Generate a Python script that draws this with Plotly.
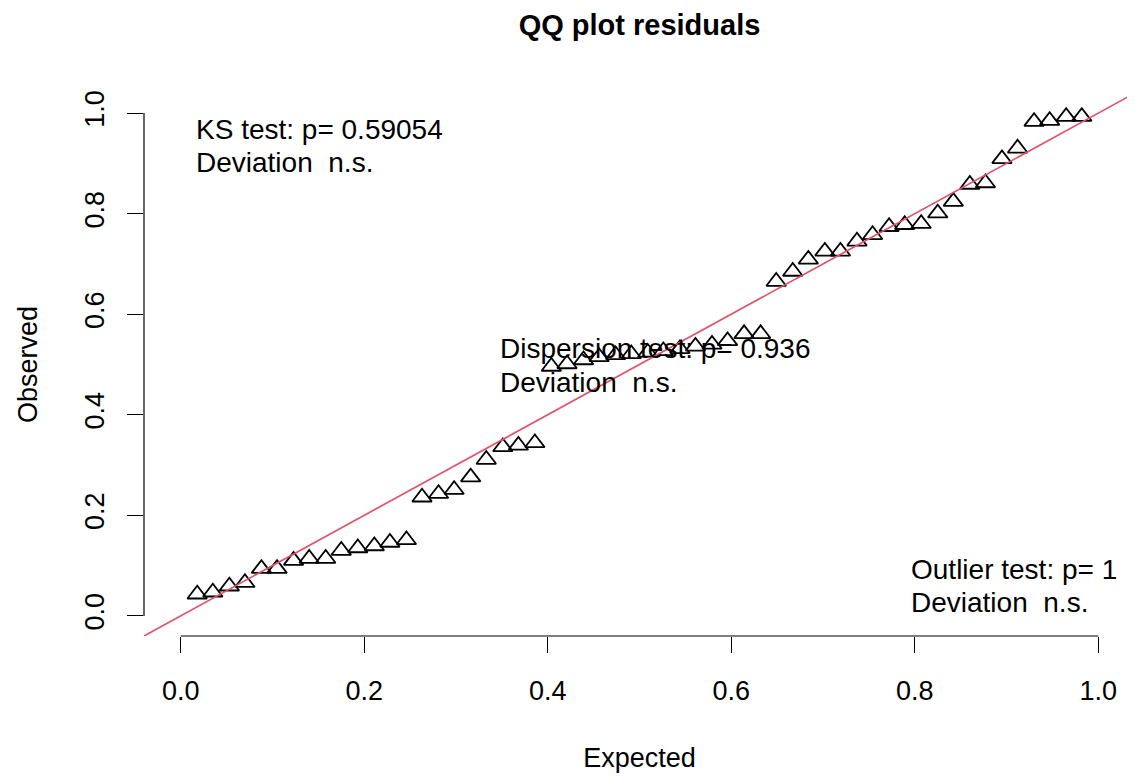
import plotly.graph_objects as go

# ---- data ----
expected = [0.018, 0.035, 0.053, 0.070, 0.088, 0.105, 0.123, 0.140, 0.158, 0.175,
            0.193, 0.211, 0.228, 0.246, 0.263, 0.281, 0.298, 0.316, 0.333, 0.351,
            0.368, 0.386, 0.404, 0.421, 0.439, 0.456, 0.474, 0.491, 0.509, 0.526,
            0.544, 0.561, 0.579, 0.596, 0.614, 0.632, 0.649, 0.667, 0.684, 0.702,
            0.719, 0.737, 0.754, 0.772, 0.789, 0.807, 0.825, 0.842, 0.860, 0.877,
            0.895, 0.912, 0.930, 0.947, 0.965, 0.982]
observed = [0.043, 0.047, 0.059, 0.066, 0.094, 0.094, 0.110, 0.114, 0.114, 0.130,
            0.135, 0.139, 0.146, 0.151, 0.236, 0.243, 0.251, 0.276, 0.311, 0.336,
            0.339, 0.344, 0.496, 0.501, 0.509, 0.515, 0.519, 0.521, 0.524, 0.527,
            0.531, 0.536, 0.540, 0.547, 0.561, 0.561, 0.665, 0.685, 0.709, 0.725,
            0.725, 0.745, 0.758, 0.774, 0.778, 0.780, 0.801, 0.824, 0.858, 0.861,
            0.909, 0.930, 0.983, 0.985, 0.993, 0.993]

tick_vals = [0.0, 0.2, 0.4, 0.6, 0.8, 1.0]
tick_text = ["0.0", "0.2", "0.4", "0.6", "0.8", "1.0"]
axis_range = [-0.04, 1.04]

title_text = "QQ plot residuals"
x_title = "Expected"
y_title = "Observed"

ks_lines = ["KS test: p= 0.59054", "Deviation\u00a0 n.s."]
disp_lines = ["Dispersion test: p= 0.936", "Deviation\u00a0 n.s."]
out_lines = ["Outlier test: p= 1", "Deviation\u00a0 n.s."]

FONT = "Liberation Sans, Arial, sans-serif"
FS = 27
FS_TXT = 28

W, H = 1127, 768  # page body has an 8px margin

fig = go.Figure()
fig.add_trace(go.Scatter(
    x=expected, y=observed, mode="markers",
    marker=dict(symbol="triangle-up-open", size=17, color="black",
                line=dict(color="black", width=1.8)),
    showlegend=False, hoverinfo="skip"))
# reference line y = x across the whole plot region
fig.add_trace(go.Scatter(
    x=axis_range, y=axis_range, mode="lines",
    line=dict(color="#DF536B", width=1.7), showlegend=False, hoverinfo="skip"))

axis_common = dict(range=axis_range, showgrid=False, zeroline=False, showline=False,
                   ticks="outside", ticklen=16, tickwidth=1.2, tickcolor="black",
                   tickvals=tick_vals, ticktext=tick_text,
                   tickfont=dict(family=FONT, size=FS, color="black"))

fig.update_layout(
    width=W, height=H,
    margin=dict(l=136, r=0, t=85, b=140),
    paper_bgcolor="white", plot_bgcolor="white",
    font=dict(family=FONT, size=FS, color="black"),
    title=dict(text=title_text, x=0.5, xref="paper", xanchor="center",
               y=1 - 17 / H, yref="container", yanchor="middle",
               font=dict(family=FONT, size=29, color="black", weight="bold")),
    xaxis=dict(**axis_common, ticklabelstandoff=15,
               title=dict(text=x_title, standoff=42,
                          font=dict(family=FONT, size=FS, color="black"))),
    yaxis=dict(**axis_common, tickangle=-90, ticklabelstandoff=12,
               title=dict(text=y_title, standoff=34,
                          font=dict(family=FONT, size=FS, color="black"))),
)

# R-style axis lines spanning only the first to last tick
fig.add_shape(type="line", xref="x", yref="paper", x0=tick_vals[0], x1=tick_vals[-1],
              y0=0, y1=0, line=dict(color="black", width=1.2))
fig.add_shape(type="line", xref="paper", yref="y", x0=0, x1=0,
              y0=tick_vals[0], y1=tick_vals[-1], line=dict(color="black", width=1.2))

def add_text(x, y, txt):
    fig.add_annotation(x=x, y=y, xref="x", yref="y", text=txt, showarrow=False,
                       xanchor="left", yanchor="middle",
                       font=dict(family=FONT, size=FS_TXT, color="black"))

add_text(0.015, 0.968, ks_lines[0])
add_text(0.015, 0.901, ks_lines[1])
add_text(0.346, 0.531, disp_lines[0])
add_text(0.346, 0.464, disp_lines[1])
add_text(0.794, 0.093, out_lines[0])
add_text(0.794, 0.026, out_lines[1])

fig.write_html("out.html")
